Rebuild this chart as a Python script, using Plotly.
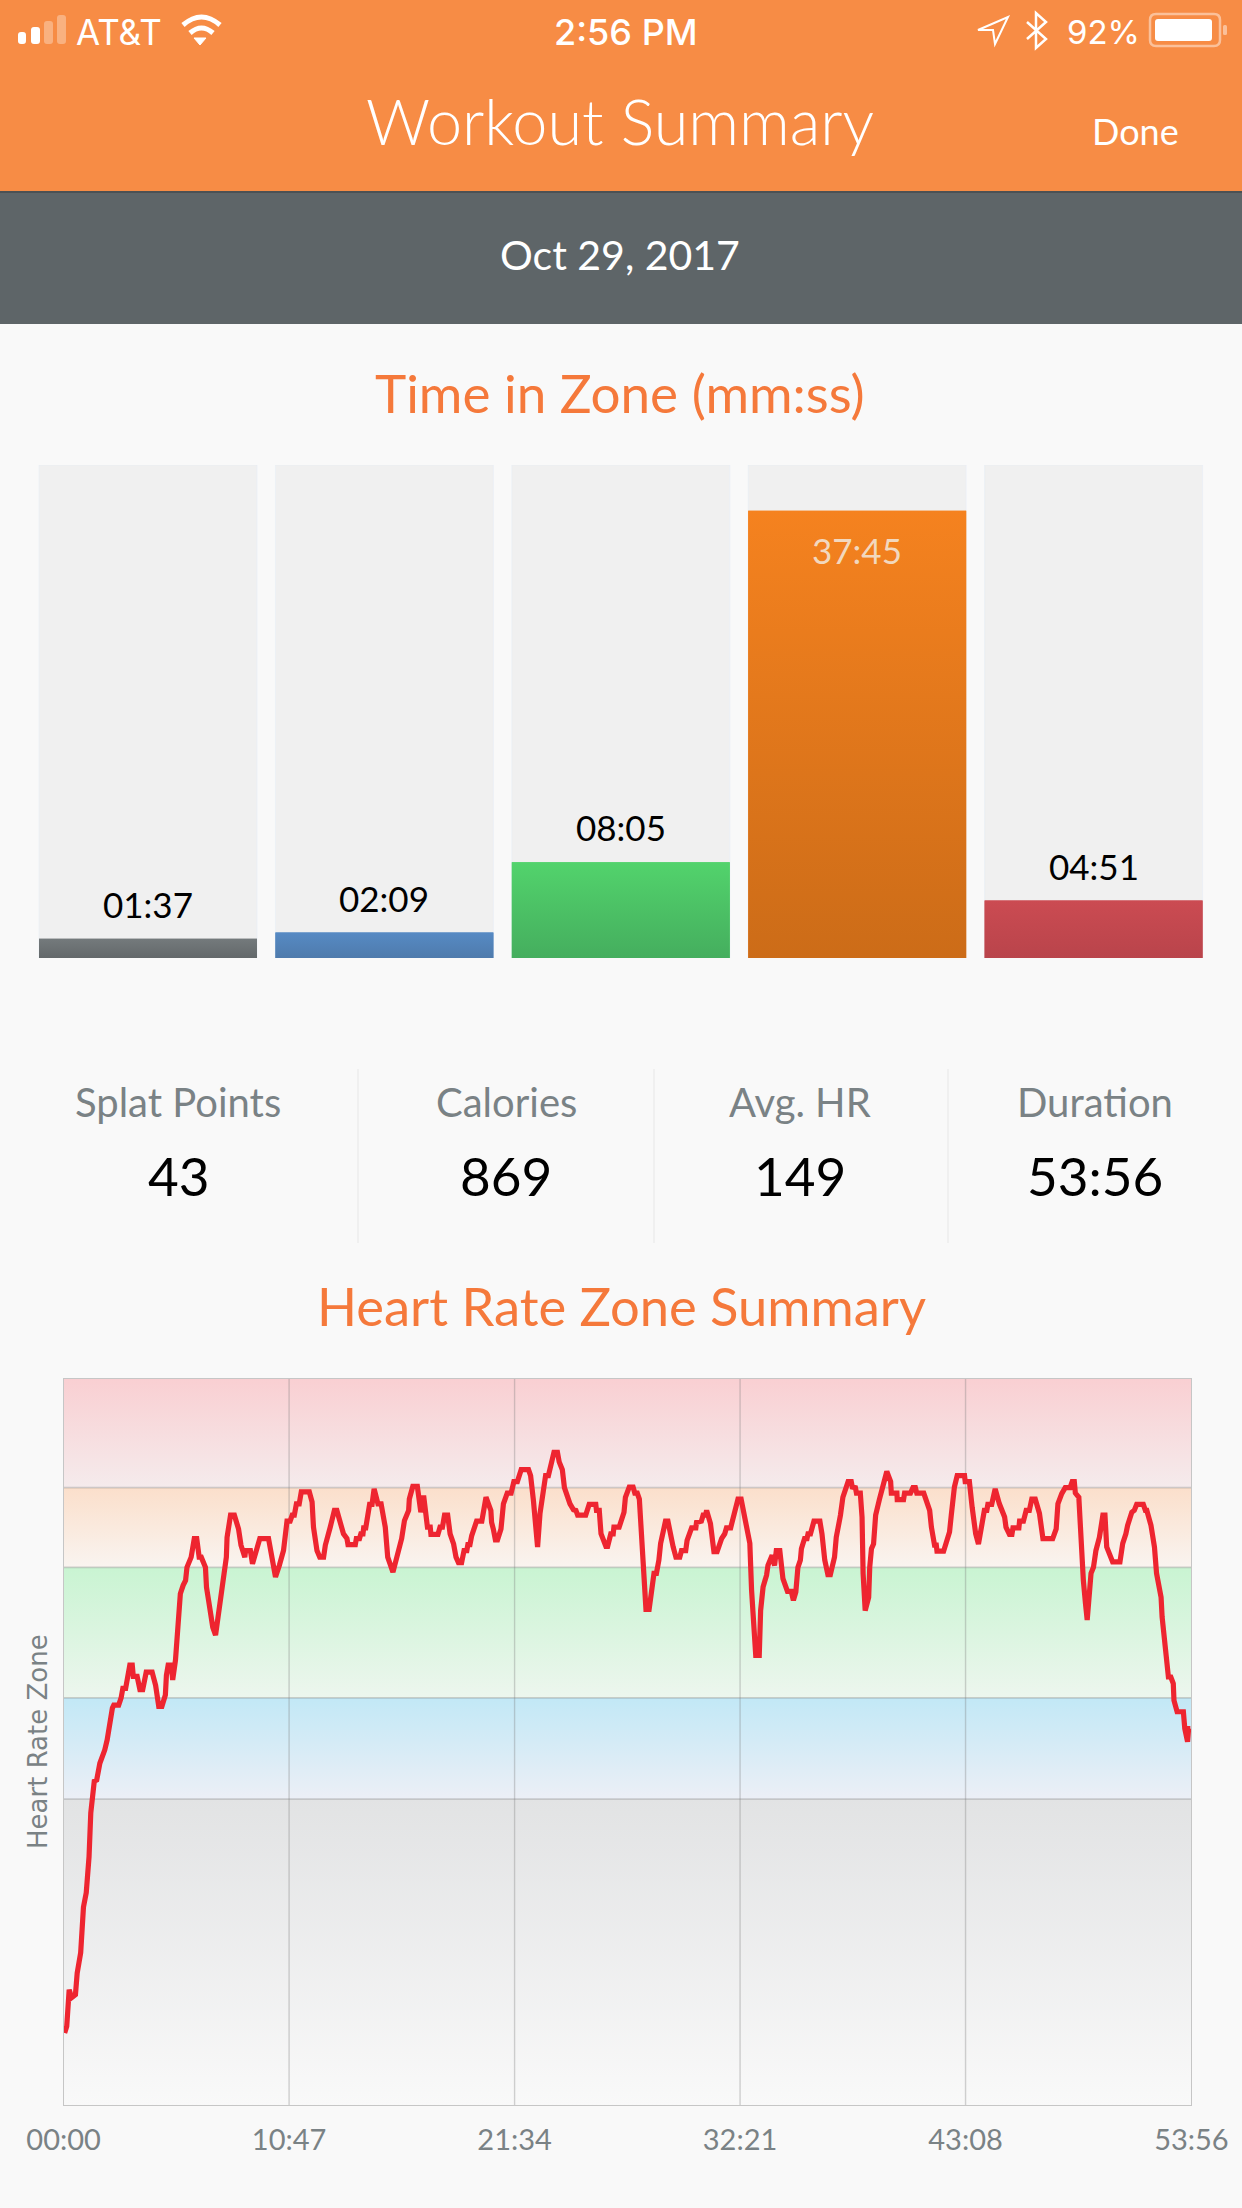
import plotly.graph_objects as go

W, H = 1242, 2208

# --- data ---
zone_names = ["Gray", "Blue", "Green", "Orange", "Red"]
zone_times = ["01:37", "02:09", "08:05", "37:45", "04:51"]
track_seconds = 2497

stat_labels = ["Splat Points", "Calories", "Avg. HR", "Duration"]
stat_values = ["43", "869", "149", "53:56"]

tick_seconds = [0, 647, 1294, 1941, 2588, 3236]
tick_labels = ["00:00", "10:47", "21:34", "32:21", "43:08", "53:56"]

# heart rate zone edges in bpm, bottom of the plot to top
zone_edges = [50.2, 101.3, 118.2, 140.0, 153.3, 171.5]

hr_seconds = [
    3, 9, 16, 23, 34, 39, 49, 55, 57, 65, 73, 78, 84, 88, 95, 104, 118, 125, 140, 144, 158, 165, 170,
    178, 190, 197, 200, 211, 219, 227, 237, 254, 264, 273, 282, 292, 295, 300, 309, 313, 321, 330, 335,
    343, 350, 354, 366, 375, 382, 389, 395, 407, 410, 416, 428, 436, 442, 450, 455, 461, 467, 469, 479,
    490, 502, 509, 520, 522, 536, 542, 555, 563, 588, 598, 608, 619, 631, 641, 650, 656, 662, 668, 676,
    682, 705, 713, 717, 727, 735, 746, 751, 765, 777, 784, 796, 803, 813, 816, 837, 840, 849, 853, 859,
    861, 867, 873, 878, 885, 891, 902, 911, 923, 930, 945, 956, 970, 978, 990, 992,
    1002, 1015, 1025, 1033, 1044, 1052, 1054, 1074, 1080, 1087, 1093, 1102, 1109, 1119, 1126, 1133, 1142,
    1149, 1157, 1160, 1166, 1171, 1181, 1185, 1200, 1206, 1212, 1226, 1228, 1233, 1239, 1245, 1255, 1262,
    1273, 1284, 1292, 1302, 1313, 1334, 1340, 1348, 1355, 1360, 1367, 1374, 1379, 1383, 1391, 1400, 1407,
    1417, 1422, 1431, 1437, 1453, 1463, 1470, 1475, 1498, 1508, 1527, 1529, 1537, 1542, 1556, 1561, 1570,
    1577, 1579, 1594, 1608, 1612, 1623, 1634, 1639, 1646, 1652, 1658, 1668, 1671, 1680, 1687, 1694, 1701,
    1708, 1713, 1720, 1727, 1734, 1742, 1749, 1757, 1768, 1773, 1785, 1789, 1802, 1814, 1816, 1830, 1835,
    1842, 1845, 1856, 1866, 1875, 1888, 1897, 1902, 1914, 1924, 1935, 1944, 1955, 1969, 1974, 1980, 1986,
    1996, 2000, 2007, 2017, 2021, 2033, 2040, 2045, 2055, 2064, 2077, 2088, 2094, 2101, 2107, 2114, 2117,
    2126, 2133, 2136, 2143, 2153, 2165, 2170, 2176, 2184, 2193, 2200, 2212, 2217, 2229, 2236, 2251, 2260,
    2263, 2272, 2275, 2286, 2291, 2294, 2300, 2310, 2313, 2318, 2324, 2330, 2341, 2351, 2362, 2373, 2375,
    2391, 2392, 2410, 2413, 2430, 2437, 2444, 2448, 2468, 2485, 2490, 2499, 2504, 2506, 2525, 2530, 2542,
    2547, 2556, 2564, 2585, 2587, 2599, 2607, 2617, 2625, 2636, 2642, 2649, 2652, 2663, 2673, 2685, 2700,
    2704, 2714, 2721, 2724, 2741, 2743, 2754, 2762, 2771, 2778, 2788, 2800, 2810, 2838, 2848, 2853, 2864,
    2874, 2888, 2894, 2900, 2903, 2913, 2919, 2926, 2932, 2937, 2948, 2955, 2962, 2972, 2982, 2988, 2993,
    3003, 3010, 3031, 3039, 3048, 3053, 3065, 3072, 3079, 3098, 3104, 3108, 3120, 3130, 3136, 3149, 3152,
    3163, 3165, 3170, 3177, 3184, 3186, 3195, 3213, 3217, 3225, 3228, 3233,
]
hr_bpm = [
    62.3, 63.4, 69.5, 68.2, 68.7, 72.3, 75.7, 80.0, 83.3, 85.7, 91.7, 99.0, 102.8, 104.3, 104.5, 107.3, 109.5, 111.2, 116.5, 117.0, 117.0, 118.2, 119.8,
    119.8, 123.7, 123.7, 121.8, 121.8, 119.6, 119.6, 122.5, 122.5, 120.3, 116.8, 116.8, 118.7, 122.0, 123.7, 123.7, 121.2, 124.5, 132.3, 135.6,
    137.0, 137.8, 140.0, 141.7, 144.8, 144.8, 141.7, 141.7, 140.0, 136.7, 134.5, 130.0, 128.7, 131.2, 135.3, 135.9, 138.4, 141.7, 145.0, 148.7,
    148.7, 146.4, 143.7, 141.7, 142.8, 142.8, 140.6, 142.8, 144.8, 144.8, 141.7, 138.4, 140.3, 142.8, 147.7, 147.7, 148.7, 148.7, 150.6, 150.6,
    152.6, 152.6, 150.9, 146.7, 142.8, 141.7, 141.7, 143.7, 146.7, 149.5, 149.5, 147.3, 145.6, 144.8, 143.8, 143.8, 144.8, 144.8, 145.6, 145.6,
    146.6, 146.6, 148.4, 150.5, 150.5, 153.1, 150.6, 150.6, 146.7, 141.7, 139.2, 141.7, 144.8, 147.8, 149.5, 151.4,
    153.5, 153.5, 149.2, 152.0, 146.7, 146.7, 145.5, 145.5, 146.7, 146.7, 148.7, 148.7, 145.6, 143.9, 141.7, 140.8, 140.8,
    142.8, 142.8, 143.8, 143.8, 145.3, 146.7, 147.7, 147.7, 150.6, 151.7, 149.5, 147.5, 146.4, 144.6, 144.6, 146.4, 150.6,
    152.4, 152.4, 154.3, 154.3, 156.3, 156.3, 155.3, 151.2, 147.5, 143.4, 149.0, 152.4, 153.1, 155.3, 155.3, 157.3, 159.2,
    159.2, 157.6, 156.3, 153.3, 150.6, 149.6, 149.5, 148.7, 148.7, 150.5, 150.5, 149.5, 149.5, 145.6, 143.5, 143.5, 145.6,
    145.6, 146.7, 146.7, 149.2, 151.7, 153.4, 153.4, 152.4, 152.4, 151.4, 145.6, 136.7, 133.0, 133.0, 136.7, 139.0, 139.0,
    141.2, 144.0, 145.9, 147.7, 147.7, 144.8, 143.4, 141.7, 141.7, 142.8, 142.8, 144.5, 146.6, 146.6, 147.5, 147.7, 148.7,
    148.7, 149.5, 147.3, 142.6, 142.6, 144.8, 145.6, 146.6, 146.6, 148.7, 151.4, 151.4, 147.8, 144.0, 136.2, 128.4, 125.3,
    125.3, 132.8, 136.7, 138.7, 140.3, 142.0, 140.3, 142.8, 142.8, 138.1, 136.0, 136.0, 134.5, 135.9, 140.0, 141.2, 143.1,
    144.8, 144.8, 145.6, 145.6, 147.7, 147.7, 147.7, 145.6, 141.2, 138.8, 138.8, 141.7, 145.0, 148.7, 151.7, 154.3, 154.3,
    153.4, 153.3, 152.4, 152.4, 148.4, 139.0, 132.8, 135.0, 140.0, 143.1, 143.9, 148.7, 151.4, 153.9, 156.0, 154.3, 152.4,
    152.4, 151.3, 151.3, 152.4, 152.4, 153.3, 153.3, 152.4, 152.4, 149.5, 146.7, 143.7, 143.7, 142.7, 142.7, 143.9, 145.9,
    148.7, 153.4, 155.3, 155.3, 154.3, 154.3, 150.0, 145.6, 143.9, 147.8, 149.5, 149.5, 150.5, 150.5, 153.1, 150.6, 148.4,
    146.7, 145.5, 145.5, 146.6, 146.6, 147.7, 147.7, 149.5, 149.5, 151.4, 151.4, 149.0, 144.8, 144.8, 146.4, 150.6, 152.3,
    153.3, 153.3, 154.3, 154.3, 152.4, 151.7, 144.5, 137.8, 134.0, 131.2, 139.0, 140.0, 142.8, 145.0, 148.7, 148.7, 143.4,
    141.7, 140.9, 140.9, 144.0, 145.6, 147.0, 149.2, 149.5, 150.5, 150.5, 149.5, 149.5, 147.0, 143.4, 139.0, 135.0, 131.7,
    126.2, 123.4, 121.7, 121.7, 120.6, 117.8, 115.9, 115.9, 113.1, 110.9, 113.1, 113.1,
]

# --- styles ---
BG = "#F9F9F9"
ORANGE_TITLE = "#F5793B"
GRAY_TEXT = "#7A8285"
FONT = "Lato"
bar_tops = ["#747A7C", "#568AC4", "#52D36C", "#F5821F", "#CB4B52"]
bar_bottoms = ["#63686A", "#4F7BAC", "#45AE5E", "#CC6C18", "#B9444B"]
zone_tops = ["#E2E3E4", "#C2E8F6", "#C9F4D2", "#FBDFCB", "#F9CFD2"]
zone_bottoms = ["#F9F9F9", "#ECEFF6", "#EDF6EE", "#F9F4F0", "#F5EBEC"]
GRID = "rgba(120,120,120,0.33)"
FRAME = "#C6C6C6"


def to_seconds(label):
    m, s = label.split(":")
    return int(m) * 60 + int(s)


def px(x):
    return x / W


def py(y):
    return 1 - y / H


def path(points, close=False):
    s = "M " + " L ".join(f"{px(x):.5f},{py(y):.5f}" for x, y in points)
    return s + (" Z" if close else "")


def arc(x0, x1, y_end, y_ctrl):
    cx = (x0 + x1) / 2
    return f"M {px(x0):.5f},{py(y_end):.5f} Q {px(cx):.5f},{py(y_ctrl):.5f} {px(x1):.5f},{py(y_end):.5f}"


def round_rect(x0, y0, x1, y1, r):
    return (
        f"M {px(x0 + r):.5f},{py(y0):.5f} L {px(x1 - r):.5f},{py(y0):.5f} "
        f"Q {px(x1):.5f},{py(y0):.5f} {px(x1):.5f},{py(y0 + r):.5f} L {px(x1):.5f},{py(y1 - r):.5f} "
        f"Q {px(x1):.5f},{py(y1):.5f} {px(x1 - r):.5f},{py(y1):.5f} L {px(x0 + r):.5f},{py(y1):.5f} "
        f"Q {px(x0):.5f},{py(y1):.5f} {px(x0):.5f},{py(y1 - r):.5f} L {px(x0):.5f},{py(y0 + r):.5f} "
        f"Q {px(x0):.5f},{py(y0):.5f} {px(x0 + r):.5f},{py(y0):.5f} Z"
    )


def rect(x0, y0, x1, y1, color):
    return dict(type="rect", xref="paper", yref="paper", layer="below", line_width=0, fillcolor=color,
                x0=px(x0), x1=px(x1), y0=py(y1), y1=py(y0))


def icon(d, fill=None, line=None, width=0):
    return dict(type="path", xref="paper", yref="paper", path=d, fillcolor=fill or "rgba(0,0,0,0)",
                line=dict(color=line or "rgba(0,0,0,0)", width=width))


def label(text, x, y, size, color, weight=400, family=FONT):
    return dict(text=text, xref="paper", yref="paper", x=px(x), y=py(y), xanchor="center", yanchor="middle",
                showarrow=False, font=dict(family=family, size=size, color=color, weight=weight))


fig = go.Figure()

# --- time in zone bars ---
bar_seconds = [to_seconds(t) for t in zone_times]
bar_idx = list(range(len(zone_names)))
half = 0.461

fig.add_trace(go.Bar(x=bar_idx, y=[track_seconds] * 5, width=half * 2, marker_color="#F0F0F0",
                     showlegend=False, hoverinfo="skip", xaxis="x", yaxis="y"))
fig.add_trace(go.Bar(x=bar_idx, y=bar_seconds, width=half * 2, marker_color=bar_tops, name="Time in zone",
                     marker_line_width=0, showlegend=False, xaxis="x", yaxis="y"))
for i, v in enumerate(bar_seconds):
    fig.add_trace(go.Scatter(
        x=[i - half, i + half, i + half, i - half], y=[0, 0, v, v], mode="lines", fill="toself",
        line_width=0, hoverinfo="skip", showlegend=False, xaxis="x", yaxis="y",
        fillgradient=dict(type="vertical", colorscale=[[0, bar_bottoms[i]], [1, bar_tops[i]]], start=0, stop=v),
    ))

# --- heart rate zones, grid and line ---
for i in range(len(zone_edges) - 1):
    lo, hi = zone_edges[i], zone_edges[i + 1]
    fig.add_trace(go.Scatter(
        x=[0, 3236, 3236, 0], y=[lo, lo, hi, hi], mode="lines", fill="toself", line_width=0,
        hoverinfo="skip", showlegend=False, xaxis="x2", yaxis="y2",
        fillgradient=dict(type="vertical", colorscale=[[0, zone_bottoms[i]], [1, zone_tops[i]]], start=lo, stop=hi),
    ))
for t in tick_seconds[1:-1]:
    fig.add_trace(go.Scatter(x=[t, t], y=[zone_edges[0], zone_edges[-1]], mode="lines", hoverinfo="skip",
                             line=dict(color=GRID, width=1.4), showlegend=False, xaxis="x2", yaxis="y2"))
for e in zone_edges[1:-1]:
    fig.add_trace(go.Scatter(x=[0, 3236], y=[e, e], mode="lines", hoverinfo="skip",
                             line=dict(color=GRID, width=1.8), showlegend=False, xaxis="x2", yaxis="y2"))
fig.add_trace(go.Scatter(x=hr_seconds, y=hr_bpm, mode="lines", name="Heart rate",
                         line=dict(color="#EE2530", width=5.2), showlegend=False, xaxis="x2", yaxis="y2"))

# --- page furniture ---
shapes = [
    rect(0, 0, W, 191, "#F78C45"),
    rect(0, 191, W, 324, "#5E6568"),
    rect(0, 191, W, 193, "#4C5154"),
]
for x in [358, 654, 948]:
    shapes.append(rect(x - 0.7, 1069, x + 0.7, 1243, "#EDEDED"))

# status bar icons
FADED = "rgba(255,255,255,0.32)"
shapes += [
    icon(round_rect(18, 32, 26, 44, 3), fill="white"),
    icon(round_rect(31, 27, 40, 44, 3), fill="white"),
    icon(round_rect(44, 21, 53, 44, 3), fill=FADED),
    icon(round_rect(57, 15, 66, 44, 3), fill=FADED),
    icon(arc(183, 220, 25, 9), line="white", width=5),
    icon(arc(190, 213, 33, 23), line="white", width=5),
    icon(path([(194, 38), (206, 38), (200, 45)], close=True), fill="white", line="white", width=1),
    icon(path([(978, 30), (1008, 17), (995, 44), (993, 30)], close=True), line="white", width=2),
    icon(path([(1027, 22), (1046, 39), (1036, 48), (1036, 13), (1046, 22), (1027, 39)]), line="white", width=2.5),
    icon(round_rect(1150, 14, 1220, 46, 6), line="rgba(255,255,255,0.45)", width=2.5),
    icon(round_rect(1155, 19, 1212, 41, 3), fill="white"),
    icon(round_rect(1223, 25, 1227, 35, 1.5), fill="rgba(255,255,255,0.45)"),
]

annotations = [
    label("AT&T", 119, 32, 35, "white", 400, "Inter"),
    label("2:56 PM", 626, 32, 36, "white", 500, "Inter"),
    label("92%", 1103, 32, 33, "white", 400, "Inter"),
    label("Workout Summary", 620, 121, 63, "white", 300),
    label("Done", 1135, 131, 36, "white", 400),
    label("Oct 29, 2017", 620, 255, 41, "white", 400),
    label("Time in Zone (mm:ss)", 620, 393, 53, ORANGE_TITLE, 400),
    label("Heart Rate Zone Summary", 621, 1305, 52.5, ORANGE_TITLE, 400),
    # axis title placed by hand so it does not push the page margins
    dict(text="Heart Rate Zone", xref="paper", yref="paper", x=px(38), y=py(1742), textangle=-90,
         xanchor="center", yanchor="middle", showarrow=False,
         font=dict(family="DejaVu Sans", size=26, color=GRAY_TEXT)),
]
for name, value, x in zip(stat_labels, stat_values, [178, 506, 800, 1095]):
    annotations.append(label(name, x, 1102, 40, GRAY_TEXT, 400))
    annotations.append(label(value, x, 1175, 53, "black", 400))
for i, v in enumerate(bar_seconds):
    inside = i == 3
    annotations.append(dict(text=zone_times[i], xref="x", yref="y", x=i, y=v, yshift=-39 if inside else 35,
                            xanchor="center", yanchor="middle", showarrow=False,
                            font=dict(family=FONT, size=35, color="#F2D8BE" if inside else "black")))

fig.update_layout(
    width=W, height=H, margin=dict(l=0, r=0, t=0, b=0, pad=0), autosize=False,
    paper_bgcolor=BG, plot_bgcolor="rgba(0,0,0,0)", barmode="overlay", showlegend=False,
    shapes=shapes, annotations=annotations,
    xaxis=dict(domain=[px(29.8), px(1211.8)], range=[-0.5, 4.5], visible=False, fixedrange=True, automargin=False),
    yaxis=dict(domain=[py(958), py(465)], range=[0, track_seconds], visible=False, fixedrange=True, automargin=False),
    xaxis2=dict(domain=[px(63.6), px(1191.4)], range=[0, 3236], anchor="y2", tickmode="array",
                tickvals=tick_seconds, ticktext=tick_labels, showgrid=False, zeroline=False,
                showline=True, mirror=True, linecolor=FRAME, linewidth=1.4, automargin=False,
                ticks="outside", ticklen=9, tickcolor="rgba(0,0,0,0)",
                tickfont=dict(family=FONT, size=29, color=GRAY_TEXT)),
    yaxis2=dict(domain=[py(2105.4), py(1378.6)], range=[zone_edges[0], zone_edges[-1]], anchor="x2",
                tickmode="array", tickvals=[], showgrid=False, zeroline=False, automargin=False,
                showline=True, mirror=True, linecolor=FRAME, linewidth=1.4),
)

fig.write_html("out.html", config=dict(displayModeBar=False),
               post_script="document.body.style.margin='0';document.body.style.overflow='hidden';")
